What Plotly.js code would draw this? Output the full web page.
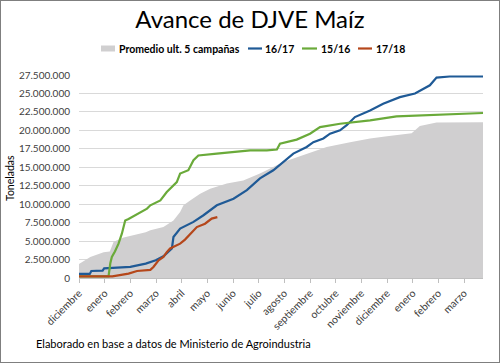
<!DOCTYPE html>
<html>
<head>
<meta charset="utf-8">
<script src="https://cdn.plot.ly/plotly-3.0.1.min.js"></script>
<style>
  html, body { margin:0; padding:0; background:#fff; }
  #wrap { position:relative; width:500px; height:363px; }
  #chart { width:500px; height:363px; }
  #frame { position:absolute; left:0; top:0; width:500px; height:363px; box-sizing:border-box; border:1px solid #7f7f7f; pointer-events:none; }
</style>
</head>
<body>
<div id="wrap"><div id="chart"></div><div id="frame"></div></div>
<script>
// Month labels (ticks at month starts, index 0 = diciembre)
const monthLabels = ['diciembre','enero','febrero','marzo','abril','mayo','junio','julio','agosto','septiembre','octubre','noviembre','diciembre','enero','febrero','marzo'];

// Promedio ult. 5 campañas (x = months since start of diciembre, y = toneladas)
const promX = [0,0.44,0.96,1.2,1.35,1.74,2.6,2.78,3.29,3.68,3.94,4.07,4.33,4.72,5.11,5.76,6.4,7.05,7.96,8.87,9.65,10.56,11.34,12.0,12.96,13.28,13.93,15.74];
const promY = [1900000,2850000,3500000,3600000,4900000,5500000,6200000,6460000,6900000,7800000,8950000,9850000,10500000,11400000,12100000,12800000,13200000,14150000,15700000,16850000,17750000,18400000,18900000,19200000,19600000,20600000,21050000,21100000];

// 16/17
const c1617X = [0,0.42,0.48,0.92,0.98,2.0,2.6,2.99,3.29,3.55,3.62,3.68,3.94,4.46,4.85,5.37,6.02,6.54,6.67,7.05,7.57,7.96,8.35,8.87,9.13,9.52,9.78,10.17,10.43,10.75,11.34,11.85,12.5,13.09,13.67,13.93,14.44,15.74];
const c1617Y = [550000,550000,950000,1000000,1300000,1500000,1950000,2400000,2950000,3750000,4000000,5550000,6700000,7600000,8500000,9850000,10750000,11900000,12300000,13500000,14600000,15700000,16850000,17750000,18400000,18900000,19550000,20000000,20700000,21800000,22700000,23600000,24500000,25000000,26100000,27150000,27300000,27300000];

// 15/16
const c1516X = [0,1.15,1.22,1.28,1.4,1.54,1.67,1.8,1.93,2.07,2.26,2.65,2.78,3.17,3.42,3.81,3.94,4.26,4.46,4.65,5.37,6.67,7.32,7.71,7.83,8.48,9.0,9.39,10.17,11.34,12.37,13.93,15.74];
const c1516Y = [230000,230000,2000000,2850000,3600000,4650000,6000000,7800000,8000000,8250000,8700000,9400000,9850000,10500000,11650000,13000000,14150000,14600000,15950000,16600000,16850000,17300000,17300000,17400000,18200000,18750000,19550000,20450000,20900000,21350000,21900000,22150000,22350000];

// 17/18
const c1718X = [0,1.3,1.93,2.26,2.78,2.9,3.1,3.29,3.42,3.55,3.94,4.13,4.59,4.91,5.17,5.39];
const c1718Y = [230000,230000,600000,950000,1100000,1500000,2400000,2850000,3500000,4000000,4650000,5200000,6900000,7350000,8050000,8250000];

const yTicks = [0,2500000,5000000,7500000,10000000,12500000,15000000,17500000,20000000,22500000,25000000,27500000];

// Legend entries
const seriesNames = ['Promedio ult. 5 campañas','16/17','15/16','17/18'];
const seriesColors = ['#d0cfd0','#1f5a96','#6aaa3a','#b5471b'];

const FONT = 'Lato, "Open Sans", sans-serif';
const tickIdx = monthLabels.map((_, i) => i);

const traces = [
  {name:seriesNames[0], x:promX, y:promY, type:'scatter', mode:'lines',
   fill:'tozeroy', fillcolor:seriesColors[0], line:{width:0, color:seriesColors[0]}, hoverinfo:'skip'},
  {name:seriesNames[1], x:c1617X, y:c1617Y, type:'scatter', mode:'lines', line:{color:seriesColors[1], width:2.2}},
  {name:seriesNames[2], x:c1516X, y:c1516Y, type:'scatter', mode:'lines', line:{color:seriesColors[2], width:2.2}},
  {name:seriesNames[3], x:c1718X, y:c1718Y, type:'scatter', mode:'lines', line:{color:seriesColors[3], width:2.2}}
];

// Custom legend layout (pixel geometry of the page)
const W = 500, H = 363, ML = 79, MR = 17, MT = 75, MB = 85;
const PW = W - ML - MR, PH = H - MT - MB;
const px = v => (v - ML) / PW;
const py = v => (H - MB - v) / PH;
const legSym = [[101,115],[248,262],[302,317],[358,372]];
const legText = [117,263,318.5,374];
const legY = 48.5;

const shapes = [];
const annotations = [];
seriesNames.forEach((n, i) => {
  if (i === 0) {
    shapes.push({type:'rect', xref:'paper', yref:'paper', x0:px(legSym[i][0]), x1:px(legSym[i][1]),
                 y0:py(legY+3), y1:py(legY-3), fillcolor:seriesColors[i], line:{width:0}});
  } else {
    shapes.push({type:'line', xref:'paper', yref:'paper', x0:px(legSym[i][0]), x1:px(legSym[i][1]),
                 y0:py(legY), y1:py(legY), line:{color:seriesColors[i], width:2.2}});
  }
  annotations.push({text:'<b>'+n+'</b>', xref:'paper', yref:'paper', x:px(legText[i]), y:py(legY),
                    xanchor:'left', yanchor:'middle', showarrow:false,
                    font:{family:FONT, size:10.5, color:'#000000'}});
});
annotations.push({text:'Toneladas', xref:'paper', yref:'paper', x:px(10), y:py(178), textangle:-90,
                  xanchor:'center', yanchor:'middle', showarrow:false,
                  font:{family:FONT, size:10.5, color:'#000000'}});
annotations.push({text:'Elaborado en base a datos de Ministerio de Agroindustria',
                  xref:'paper', yref:'paper', x:px(34), y:py(343), xanchor:'left', yanchor:'middle',
                  showarrow:false, font:{family:FONT, size:11, color:'#000000'}});

const layout = {
  width:W, height:H,
  margin:{l:ML, r:MR, t:MT, b:MB},
  paper_bgcolor:'#ffffff', plot_bgcolor:'#ffffff',
  separators:',.',
  font:{family:FONT, size:10, color:'#404040'},
  title:{text:'Avance de DJVE Maíz', font:{family:FONT, size:24, color:'#000000'},
         x:0.5, xanchor:'center', y:0.945, yanchor:'middle', yref:'container'},
  showlegend:false,
  xaxis:{type:'linear', range:[0,15.74], tickmode:'array', tickvals:tickIdx, ticktext:monthLabels,
         tickangle:-45, ticks:'outside', ticklen:4, tickcolor:'#bfbfbf',
         showgrid:false, zeroline:false, showline:true, linecolor:'#bfbfbf', linewidth:1,
         tickfont:{family:FONT, size:10.5, color:'#404040'}, fixedrange:true},
  yaxis:{range:[0,27500000], tickmode:'array', tickvals:yTicks, tickformat:',d',
         showgrid:true, gridcolor:'#d9d9d9', gridwidth:1, zeroline:false, showline:false,
         ticks:'', ticklen:0, ticklabelstandoff:8, tickfont:{family:FONT, size:10, color:'#404040'},
         fixedrange:true},
  shapes:shapes,
  annotations:annotations
};

Plotly.newPlot('chart', traces, layout, {displayModeBar:false, staticPlot:true});
</script>
</body>
</html>
